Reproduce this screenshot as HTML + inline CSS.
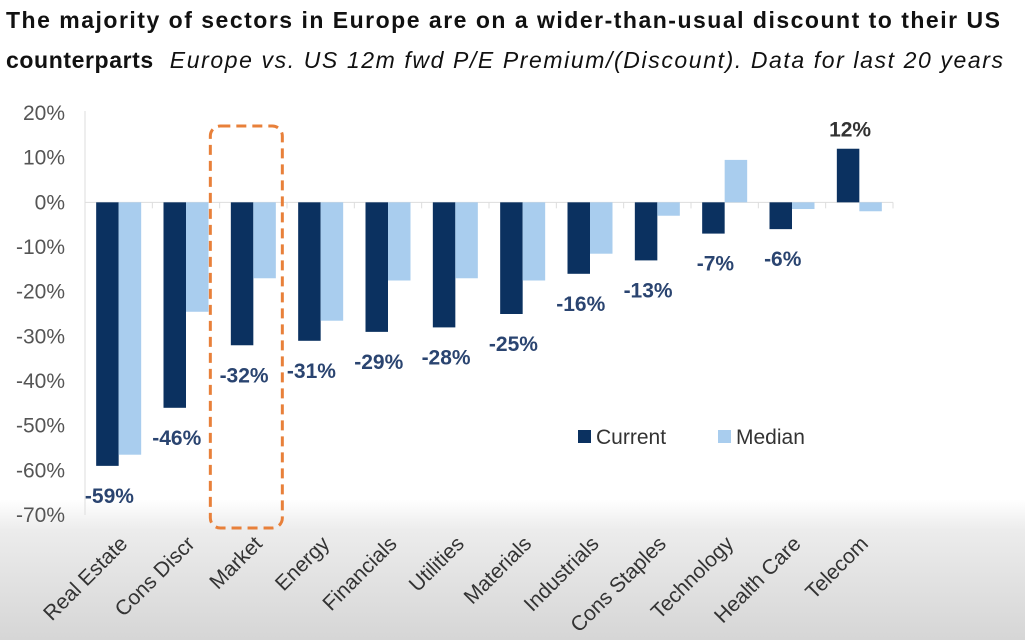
<!DOCTYPE html>
<html><head><meta charset="utf-8">
<style>
html,body{margin:0;padding:0;background:#fff;}
body{width:1025px;height:640px;overflow:hidden;position:relative;font-family:"Liberation Sans",Arial,sans-serif;}
#bg{position:absolute;left:0;top:0;width:1025px;height:640px;background:linear-gradient(to bottom,#fff 0,#fff 500px,#ececec 530px,#d6d6d6 640px);}
.t{position:absolute;left:6px;color:#111;font-size:23px;white-space:nowrap;}
</style></head><body>
<div id="bg"></div>
<div class="t" style="top:7px;font-weight:bold;letter-spacing:1.5px">The majority of sectors in Europe are on a wider-than-usual discount to their US</div>
<div class="t" style="top:47px;letter-spacing:1.6px"><b style="letter-spacing:0.6px">counterparts</b>&nbsp; <i>Europe vs. US 12m fwd P/E Premium/(Discount). Data for last 20 years</i></div>
<svg id="chart" width="1025" height="640" style="position:absolute;left:0;top:0"></svg>
<script>
const categories=["Real Estate","Cons Discr","Market","Energy","Financials","Utilities","Materials","Industrials","Cons Staples","Technology","Health Care","Telecom"];
const currentVals=[-59,-46,-32,-31,-29,-28,-25,-16,-13,-7,-6,12];
const medianVals=[-56.5,-24.5,-17,-26.5,-17.5,-17,-17.5,-11.5,-3,9.5,-1.5,-2];
const yTicks=[20,10,0,-10,-20,-30,-40,-50,-60,-70];
const NS="http://www.w3.org/2000/svg";
const svg=document.getElementById('chart');
const x0=85,x1=893,yTop=113,yBot=515;
const y=v=>yTop+(20-v)*(yBot-yTop)/90;
const bw=(x1-x0)/categories.length;
const cx=i=>x0+bw*(i+0.5);
function mk(t,a){const e=document.createElementNS(NS,t);for(const k in a)e.setAttribute(k,a[k]);svg.appendChild(e);return e;}
let e=mk('line',{x1:x0,x2:x0,y1:yTop-2,y2:yBot,stroke:'#ddd','stroke-width':1});


yTicks.forEach(v=>{
  const t=mk('text',{x:x0-20,y:y(v)+7,'text-anchor':'end','font-size':21,fill:'#555'});
  t.textContent=v+'%';
  
  
});
e=mk('line',{x1:x0,x2:x1,y1:y(0),y2:y(0),stroke:'#ddd','stroke-width':1});


for(let i=0;i<=categories.length;i++){
  const tk=mk('line',{x1:x0+bw*i,x2:x0+bw*i,y1:y(0),y2:y(0)+6,stroke:'#ddd'});
  
  
}
const w=22.5;
categories.forEach((c,i)=>{
  const v=currentVals[i],m=medianVals[i];
  const r=mk('rect',{x:cx(i)-w,y:Math.min(y(0),y(v)),width:w,height:Math.abs(y(v)-y(0)),fill:'#0b3160'});
  
  
  const r2=mk('rect',{x:cx(i),y:Math.min(y(0),y(m)),width:w,height:Math.abs(y(m)-y(0)),fill:'#a9cdee'});
  
  
  const lt=mk('text',{x:cx(i)-w/2+2,y:v<0?y(v)+37:y(v)-12,'text-anchor':'middle','font-size':21,'font-weight':'bold',fill:v<0?'#2a4470':'#333'});
  lt.textContent=Math.round(v)+'%';
  
  
  const xl=mk('text',{x:0,y:0,'text-anchor':'end','font-size':21,fill:'#333',transform:`translate(${cx(i)+10},${545}) rotate(-45)`});
  xl.textContent=c;
  
  
});
e=mk('rect',{x:cx(2)-43,y:126,width:72,height:402,rx:10,fill:'none',stroke:'#e8803a','stroke-width':3,'stroke-dasharray':'10,6'});


[['Current','#0b3160',578],['Median','#a9cdee',718]].forEach(([n,col,lx])=>{
  const s=mk('rect',{x:lx,y:430,width:13,height:13,fill:col});
  
  
  const t=mk('text',{x:lx+18,y:444,'font-size':21,fill:'#333'});
  t.textContent=n;
  
  
});
</script>
</body></html>
